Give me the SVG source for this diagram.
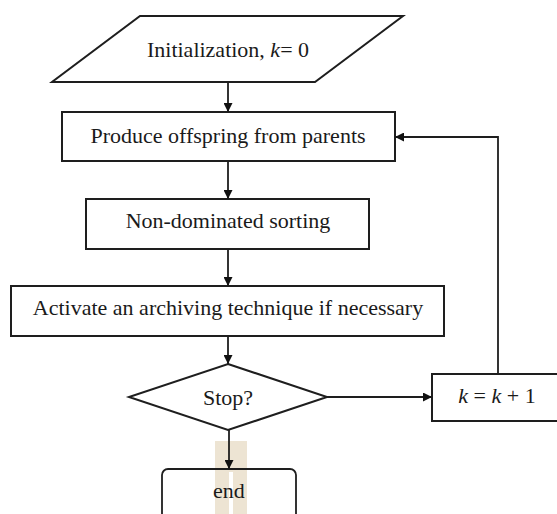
<svg xmlns="http://www.w3.org/2000/svg" width="557" height="514" viewBox="0 0 557 514">
  <style>
    .shape { fill: #ffffff; stroke: #1e1e1e; stroke-width: 2; }
    .link { fill: none; stroke: #1e1e1e; stroke-width: 1.8; }
    .label { font-family: "Liberation Serif", "Times New Roman", serif; font-size: 22px; fill: #1a1a1a; text-anchor: middle; }
    .it { font-style: italic; }
  </style>
  <defs>
    <marker id="arrow" viewBox="0 0 10 10" refX="10" refY="5" markerWidth="9" markerHeight="9" markerUnits="userSpaceOnUse" orient="auto">
      <path d="M0,0 L10,5 L0,10 Z" fill="#111111"/>
    </marker>
  </defs>

  <rect width="557" height="514" fill="#ffffff"/>

  <!-- highlight band behind the final connector -->
  <g id="highlight">
    <rect x="215" y="441" width="32" height="73" fill="#ede4d3"/>
    <rect x="229" y="472" width="4" height="42" fill="#ffffff"/>
  </g>

  <g id="init">
    <polygon class="shape" points="140,16 403,16 315,82 52,82"/>
    <text class="label" x="228" y="57">Initialization, <tspan class="it">k</tspan>= 0</text>
  </g>

  <g id="produce">
    <rect class="shape" x="62" y="112" width="333" height="49"/>
    <text class="label" x="228" y="143">Produce offspring from parents</text>
  </g>

  <g id="sorting">
    <rect class="shape" x="86" y="199" width="283" height="50"/>
    <text class="label" x="228" y="228">Non-dominated sorting</text>
  </g>

  <g id="archive">
    <rect class="shape" x="11" y="286" width="433" height="50"/>
    <text class="label" x="228" y="315">Activate an archiving technique if necessary</text>
  </g>

  <g id="stop">
    <polygon class="shape" points="228,364 327,397 228,430 129,397"/>
    <text class="label" x="228" y="405">Stop?</text>
  </g>

  <g id="increment">
    <rect class="shape" x="432" y="374" width="140" height="47"/>
    <text class="label" x="497" y="403"><tspan class="it">k</tspan> = <tspan class="it">k</tspan> + 1</text>
  </g>

  <g id="end">
    <rect x="162" y="469" width="134" height="60" rx="6" ry="6" fill="none" stroke="#1e1e1e" stroke-width="1.8"/>
    <text class="label" x="229" y="498">end</text>
  </g>

  <g id="connectors">
    <line class="link" x1="228" y1="82" x2="228" y2="112" marker-end="url(#arrow)"/>
    <line class="link" x1="228" y1="161" x2="228" y2="199" marker-end="url(#arrow)"/>
    <line class="link" x1="228" y1="249" x2="228" y2="286" marker-end="url(#arrow)"/>
    <line class="link" x1="228" y1="336" x2="228" y2="364" marker-end="url(#arrow)"/>
    <line class="link" x1="327" y1="397" x2="432" y2="397" marker-end="url(#arrow)"/>
    <line class="link" x1="229" y1="430" x2="229" y2="469" marker-end="url(#arrow)"/>
    <polyline class="link" points="498,374 498,137 395,137" marker-end="url(#arrow)"/>
  </g>
</svg>
